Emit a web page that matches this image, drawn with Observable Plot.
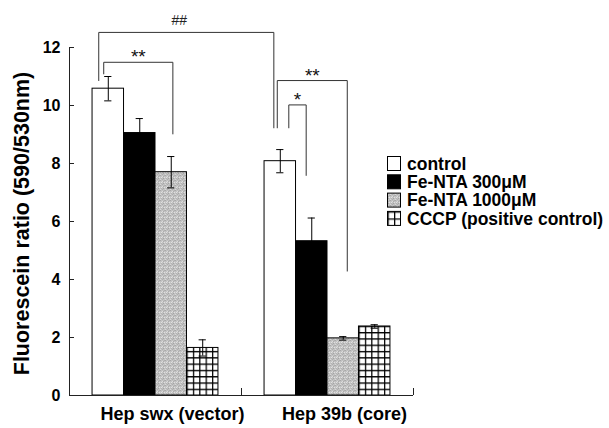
<!DOCTYPE html>
<html>
<head>
<meta charset="utf-8">
<script src="https://cdn.jsdelivr.net/npm/d3@7"></script>
<script src="https://cdn.jsdelivr.net/npm/@observablehq/plot@0.6"></script>
<style>
  html, body { margin: 0; padding: 0; background: #fff; }
  #chart svg { display: block; }
</style>
</head>
<body>
<div id="chart"></div>
<script>
// Cell lines and treatments
const groups = ["Hep swx (vector)", "Hep 39b (core)"];
const series = ["control", "Fe-NTA 300μM", "Fe-NTA 1000μM", "CCCP (positive control)"];

// Mean fluorescein ratio and error per treatment, one list per cell line
const meansSwx  = [10.58, 9.05, 7.70, 1.64];
const errorsSwx = [0.42, 0.50, 0.54, 0.28];
const means39b  = [8.08, 5.32, 1.97, 2.38];
const errors39b = [0.40, 0.80, 0.06, 0.06];

const yTicks = [0, 2, 4, 6, 8, 10, 12];
const yTitle = "Fluorescein ratio (590/530nm)";

// Significance brackets (x in group units, y in ratio units)
const brackets = [
  {label: "##", x1: -0.330, x2: 0.688, top: 12.52, left: 10.86, right: 9.23},
  {label: "**", x1: -0.301, x2: 0.101, top: 11.49, left: 11.09, right: 9.02},
  {label: "**", x1: 0.708,  x2: 1.115, top: 10.86, left: 9.23,  right: 4.29},
  {label: "*",  x1: 0.775,  x2: 0.876, top: 10.02, left: 9.23,  right: 7.59}
];

const fills = ["white", "black", "url(#speckle)", "url(#grid)"];
const keyFills = ["white", "black", "url(#speckle)", "url(#grid-key)"];

const means = [meansSwx, means39b];
const errors = [errorsSwx, errors39b];
const bw = 0.183; // bar width in group units

const rows = groups.flatMap((g, gi) => series.map((s, si) => {
  const x1 = gi + (si - 2) * bw;
  return {group: g, gi, series: s, si, value: means[gi][si], error: errors[gi][si],
          x1, x2: x1 + bw, xc: x1 + bw / 2};
}));
const cap = 0.021;
const caps = rows.flatMap(d => [d.value - d.error, d.value + d.error]
  .map(y => ({y, x1: d.xc - cap, x2: d.xc + cap})));

const bracketPath = brackets.flatMap((b, i) => [
  {i, x: b.x1, y: b.left}, {i, x: b.x1, y: b.top},
  {i, x: b.x2, y: b.top},  {i, x: b.x2, y: b.right}
]);

const W = 609, H = 428, ML = 69, MR = 196, MT = 47, MB = 33;
const innerW = W - ML - MR, innerH = H - MT - MB;
const font = "'Liberation Sans', Arial, Helvetica, sans-serif";
const ink = "#222";

const plot = Plot.plot({
  width: W, height: H,
  marginLeft: ML, marginRight: MR, marginTop: MT, marginBottom: MB,
  style: {fontFamily: font, background: "white", overflow: "visible", color: "black"},
  x: {type: "linear", domain: [-0.5, 1.5], axis: null},
  y: {domain: [0, 12], axis: null},
  color: {type: "identity"},
  marks: [
    // bars
    Plot.rectY(rows, {x1: "x1", x2: "x2", y1: 0, y2: "value",
      fill: d => fills[d.si], stroke: "black", strokeWidth: 1}),
    // error bars
    Plot.ruleX(rows, {x: "xc", y1: d => d.value - d.error, y2: d => d.value + d.error,
      stroke: "black", strokeWidth: 1}),
    Plot.ruleY(caps, {y: "y", x1: "x1", x2: "x2", stroke: "black", strokeWidth: 1}),
    // axes lines and ticks
    Plot.ruleY([0], {stroke: ink, strokeWidth: 1}),
    Plot.ruleX([-0.5], {y1: 0, y2: 12, stroke: ink, strokeWidth: 1}),
    Plot.ruleY(yTicks, {insetRight: innerW - 5, stroke: ink, strokeWidth: 1}),
    Plot.ruleX([0.5, 1.5], {insetTop: innerH - 7, stroke: ink, strokeWidth: 1}),
    Plot.axisY({ticks: yTicks, tickSize: 0, tickPadding: 9, label: null,
      fontSize: 16, fontWeight: "bold"}),
    // group labels
    Plot.text(groups, {x: (d, i) => i, frameAnchor: "bottom", dy: 24, dx: 17,
      fontSize: 18, fontWeight: "bold", fill: "black"}),
    // y title
    Plot.text([yTitle], {frameAnchor: "left", textAnchor: "middle", dx: -47, dy: 2, rotate: -90,
      fontSize: 21.5, fontWeight: "bold", fill: "black"}),
    // significance brackets
    Plot.line(bracketPath, {x: "x", y: "y", z: "i", stroke: "#333", strokeWidth: 1}),
    Plot.text(brackets.filter(b => b.label === "##"), {x: d => (d.x1 + d.x2) / 2, y: "top",
      text: "label", dy: -12, dx: -7, fontSize: 14, fill: "#222"}),
    Plot.text(brackets.filter(b => b.label !== "##"), {x: d => (d.x1 + d.x2) / 2, y: "top",
      text: "label", dy: -5, fontSize: 19, fill: "#111"})
  ]
});

document.getElementById("chart").appendChild(plot);

// fill patterns
const xs = plot.scale("x"), ys = plot.scale("y");
const svg = d3.select(plot);
const defs = svg.insert("defs", ":first-child");

const speck = defs.append("pattern").attr("id", "speckle")
  .attr("patternUnits", "userSpaceOnUse").attr("width", 5).attr("height", 5);
speck.append("rect").attr("width", 5).attr("height", 5).attr("fill", "#c2c2c2");
const dots = [[0,0,"#a9a9a9"],[2,1,"#dcdcdc"],[4,0,"#b0b0b0"],[1,2,"#e2e2e2"],[3,3,"#a4a4a4"],
              [0,4,"#d8d8d8"],[2,4,"#aeaeae"],[4,2,"#e0e0e0"],[1,3,"#b4b4b4"],[3,1,"#acacac"]];
dots.forEach(([x, y, c]) => speck.append("rect").attr("x", x).attr("y", y)
  .attr("width", 1).attr("height", 1).attr("fill", c));

function gridPattern(id, x0, y0, cw, ch) {
  const p = defs.append("pattern").attr("id", id).attr("patternUnits", "userSpaceOnUse")
    .attr("x", x0).attr("y", y0).attr("width", cw).attr("height", ch);
  p.append("rect").attr("width", cw).attr("height", ch).attr("fill", "white");
  p.append("path").attr("d", `M0,0.6H${cw}M0.6,0V${ch}`)
    .attr("stroke", "black").attr("stroke-width", 1.3).attr("fill", "none");
}
const cccp = rows.find(d => d.si === 3);
gridPattern("grid", xs.apply(cccp.x1), ys.apply(0), innerW / 2 / 27, 6.3);

// legend
const legX = 387.5, legY0 = 163.5, legStep = 18.3, box = 13;
gridPattern("grid-key", legX, legY0 + 3 * legStep - 7, box / 2, 14 / 2);
const leg = svg.append("g").attr("font-family", font).attr("font-size", 17.5)
  .attr("font-weight", "bold").attr("text-anchor", "start");
series.forEach((s, i) => {
  const cy = legY0 + i * legStep;
  leg.append("rect").attr("x", legX).attr("y", cy - 7).attr("width", box).attr("height", 14)
    .attr("fill", keyFills[i]).attr("stroke", "black").attr("stroke-width", 1);
  leg.append("text").attr("x", legX + 19.5).attr("y", cy).attr("dy", "0.35em")
    .attr("text-anchor", "start").attr("fill", "black").text(s);
});
</script>
</body>
</html>
